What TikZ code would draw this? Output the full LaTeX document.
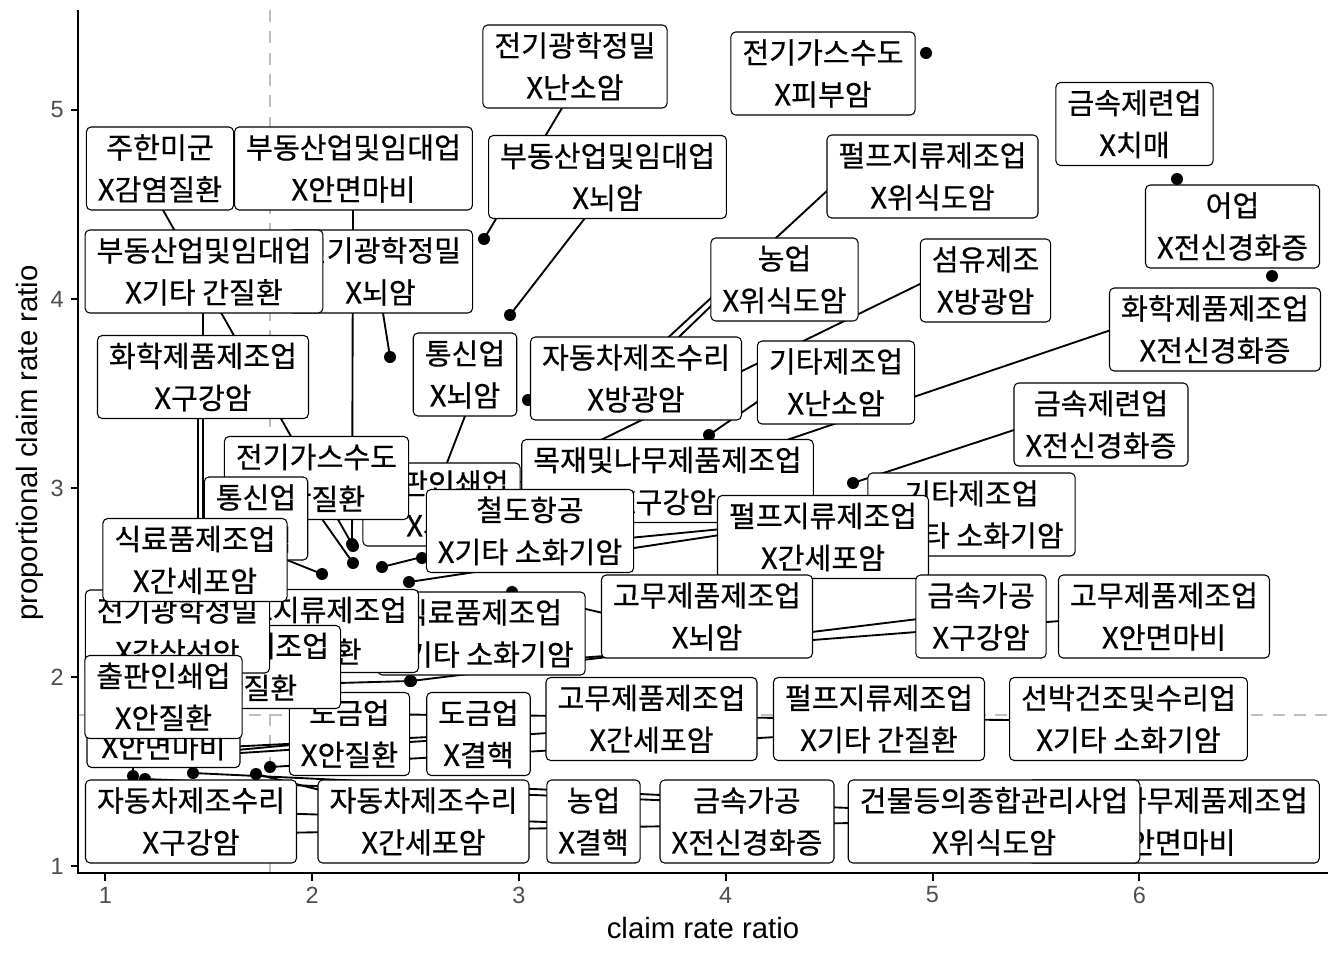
\documentclass[tikz,border=0pt]{standalone}
\usepackage{fontspec}
\setmainfont{Liberation Sans}
\newfontfamily\krfont[FakeBold=0.6]{Noto Sans CJK KR}
\newcommand\krst{\rule[-0.225em]{0pt}{1.2em}}
\newcommand\twoln[2]{\krst #1\\\krst #2}
\definecolor{tickgray}{HTML}{4D4D4D}
\definecolor{dashgray}{HTML}{BEBEBE}
\begin{document}
\begin{tikzpicture}[x=0.75pt,y=-0.75pt,
  lbl/.style={draw=black, fill=white, rounded corners=3.5pt, line width=0.8pt,
    inner xsep=8.6pt, inner ysep=0pt, minimum height=62.25pt, align=center,
    font=\krfont\fontsize{21.9pt}{31.5pt}\selectfont},
  pnt/.style={circle, fill=black, inner sep=0pt, minimum size=9pt},
  sgm/.style={line width=1.4pt, black, shorten >=-4pt},
  ticklab/.style={text=tickgray, font=\fontsize{17.6pt}{20pt}\selectfont, inner sep=0pt},
  axtitle/.style={font=\fontsize{22pt}{26pt}\selectfont, inner sep=0pt},
  refline/.style={dashgray, line width=1.4pt, dash pattern=on 9pt off 7pt},
  axline/.style={black, line width=1.5pt}]
\useasboundingbox (0,0) rectangle (1344,960);
\fill[white] (0,0) rectangle (1344,960);

% reference lines
\coordinate (vt) at (270.4,10); \coordinate (vb) at (270.4,873);
\coordinate (hl) at (78,714.8); \coordinate (hr) at (1328,714.8);
\draw[refline] (vt) -- (vb);
\draw[refline] (hl) -- (hr);

% axes
\coordinate (o) at (78,873); \coordinate (yt) at (78,10); \coordinate (xr) at (1328,873);
\draw[axline] (yt) -- (o) -- (xr);
\foreach \v/\px in {1/105.3,2/312.1,3/518.9,4/725.7,5/932.5,6/1139.3}{
  \draw[axline] (\px,873) -- (\px,880.5);
  \node[ticklab] (xt\v) at (\px,895) {\v};
}
\foreach \v/\py in {1/866,2/677,3/488,4/299,5/110}{
  \draw[axline] (70.5,\py) -- (78,\py);
  \node[ticklab, anchor=east] (yt\v) at (64,\py) {\v};
}
\node[axtitle] (xtitle) at (703,928) {claim rate ratio};
\node[axtitle, rotate=90] (ytitle) at (30,443) {proportional claim rate ratio};

% points
\foreach \n/\a/\b in {1/484/239,2/926/53,3/1177/179,4/353/546,5/352/544,6/510/315,
  7/620/382,8/1272/276,9/203/745,10/390/357,11/627/387,12/560/460,13/669/480,
  14/198/750,15/425/520,16/528/400,17/709/435,18/853/483,19/353/563,20/470/555,
  21/322/574,22/250/610,23/505/482,24/382/567,25/409/582,26/422/558,27/150/700,
  28/300/650,29/410/681,30/120/752,31/133/776,32/215/752,33/205/748,34/225/754,
  35/270/767,36/345/714,37/450/640,38/512/592,39/411/681,40/500/664,41/110/830,
  42/256/774,43/240/812,44/193/773,45/145/779,46/215/834}{
  \node[pnt] (p\n) at (\a,\b) {};
}

% segment ends on label boxes
\foreach \n/\a/\b in {1/562/108,4/163/210,5/353/210,6/585/218,7/829/189,9/203/313,
  10/383/313,11/711/306,12/922/283,13/1111/330,14/198/417,15/465/416,17/760/400,
  18/1014/430,19/322/519,20/470/546,21/287/560,22/250/601,23/523/482,24/426/556,
  25/720/535,26/867/515,27/150/673,28/300/672,29/338/683,30/120/738,31/133/767,
  32/291/745,33/429/737,34/548/733,35/776/737,36/1011/720,38/603/613,39/918/619,
  40/1060/621,42/320/790,43/547/822,44/661/795,45/850/808,46/1027/820}{
  \coordinate (q\n) at (\a,\b);
  \draw[sgm] (p\n.center) -- (q\n);
}

% labels (drawing order matters)
\node[lbl] (l1) at (575,66.5) {\twoln{전기광학정밀}{X난소암}};
\node[lbl] (l2) at (823,73.5) {\twoln{전기가스수도}{X피부암}};
\node[lbl] (l3) at (1134.5,124) {\twoln{금속제련업}{X치매}};
\node[lbl] (l4) at (160,168.5) {\twoln{주한미군}{X감염질환}};
\node[lbl] (l5) at (353.5,168.5) {\twoln{부동산업및임대업}{X안면마비}};
\node[lbl] (l6) at (607.5,177) {\twoln{부동산업및임대업}{X뇌암}};
\node[lbl] (l7) at (932.5,176.5) {\twoln{펄프지류제조업}{X위식도암}};
\node[lbl] (l8) at (1232.5,226.5) {\twoln{어업}{X전신경화증}};
\node[lbl] (l10) at (380.5,271.5) {\twoln{전기광학정밀}{X뇌암}};
\node[lbl] (l9) at (204,271.5) {\twoln{부동산업및임대업}{X기타 간질환}};
\node[lbl] (l11) at (784.5,279.5) {\twoln{농업}{X위식도암}};
\node[lbl] (l12) at (985.5,280.5) {\twoln{섬유제조}{X방광암}};
\node[lbl] (l13) at (1215,329.5) {\twoln{화학제품제조업}{X전신경화증}};
\node[lbl] (l14) at (203,377) {\twoln{화학제품제조업}{X구강암}};
\node[lbl] (l15) at (465,374.5) {\twoln{통신업}{X뇌암}};
\node[lbl] (l16) at (636,378.5) {\twoln{자동차제조수리}{X방광암}};
\node[lbl] (l17) at (836,382.5) {\twoln{기타제조업}{X난소암}};
\node[lbl] (l18) at (1101,424.5) {\twoln{금속제련업}{X전신경화증}};
\node[lbl] (l20) at (441.5,504.5) {\twoln{출판인쇄업}{X뇌암}};
\node[lbl] (l19) at (316.5,478) {\twoln{전기가스수도}{X간질환}};
\node[lbl] (l21) at (256,518.5) {\twoln{통신업}{X결핵}};
\node[lbl] (l23) at (667.5,481) {\twoln{목재및나무제품제조업}{X구강암}};
\node[lbl] (l24) at (530,531) {\twoln{철도항공}{X기타 소화기암}};
\node[lbl] (l26) at (971.5,514.5) {\twoln{기타제조업}{X기타 소화기암}};
\node[lbl] (l25) at (823,537) {\twoln{펄프지류제조업}{X간세포암}};
\node[lbl] (l37) at (481.5,633.5) {\twoln{식료품제조업}{X기타 소화기암}};
\node[lbl] (l32) at (349.5,734) {\twoln{도금업}{X안질환}};
\node[lbl] (l28) at (313,631) {\twoln{펄프지류제조업}{X간질환}};
\node[lbl] (l29) at (248.5,667) {\twoln{식료품제조업}{X간질환}};
\node[lbl] (l27) at (177.5,631.5) {\twoln{전기광학정밀}{X갑상선암}};
\node[lbl, minimum width=114.75pt] (l31) at (163.5,726) {\krst\\\krst X안면마비};
\node[lbl] (l30) at (163.5,697) {\twoln{출판인쇄업}{X안질환}};
\node[lbl] (l22) at (195,560) {\twoln{식료품제조업}{X간세포암}};
\node[lbl] (l33) at (478.5,734) {\twoln{도금업}{X결핵}};
\node[lbl] (l34) at (651.5,719) {\twoln{고무제품제조업}{X간세포암}};
\node[lbl] (l35) at (879,719) {\twoln{펄프지류제조업}{X기타 간질환}};
\node[lbl] (l36) at (1128.5,719) {\twoln{선박건조및수리업}{X기타 소화기암}};
\node[lbl] (l38) at (707,616.5) {\twoln{고무제품제조업}{X뇌암}};
\node[lbl] (l39) at (981,616.5) {\twoln{금속가공}{X구강암}};
\node[lbl] (l40) at (1164,616.5) {\twoln{고무제품제조업}{X안면마비}};
\node[lbl] (l41) at (191,821.5) {\twoln{자동차제조수리}{X구강암}};
\node[lbl] (l42) at (423.5,821.5) {\twoln{자동차제조수리}{X간세포암}};
\node[lbl] (l43) at (593.5,821.5) {\twoln{농업}{X결핵}};
\node[lbl] (l44) at (747,821.5) {\twoln{금속가공}{X전신경화증}};
\node[lbl] (l46) at (1173.5,821.5) {\twoln{목재및나무제품제조업}{X안면마비}};
\node[lbl] (l45) at (994,821.5) {\twoln{건물등의종합관리사업}{X위식도암}};
\end{tikzpicture}
\end{document}
